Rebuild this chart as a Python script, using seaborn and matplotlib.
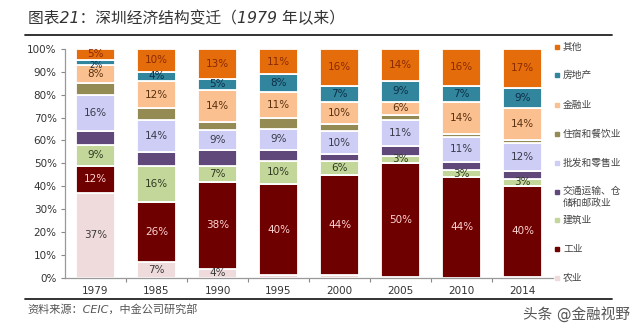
import numpy as np
import pandas as pd
import matplotlib
matplotlib.use("Agg")
import matplotlib.pyplot as plt
from matplotlib.ticker import FixedLocator, PercentFormatter
import seaborn as sns

# Shenzhen GDP structure by sector (% of total)
years = ["1979", "1985", "1990", "1995", "2000", "2005", "2010", "2014"]
sectors = ["农业", "工业", "建筑业", "交通运输、仓储和邮政业", "批发和零售业",
           "住宿和餐饮业", "金融业", "房地产", "其他"]
agriculture = [37, 7, 4, 1, 1, 0.3, 0, 0.3]
industry = [12, 26, 38, 40, 44, 50, 44, 40]
construction = [9, 16, 7, 10, 6, 3, 3, 3]
transport = [6, 6, 6.8, 5, 3, 4.5, 3.7, 3.5]
trade = [16, 14, 9, 9, 10, 11, 11, 12]
hospitality = [5, 5, 3.2, 5, 3, 2.2, 1.3, 1.2]
finance = [8, 12, 14, 11, 10, 6, 14, 14]
real_estate = [2, 4, 5, 8, 7, 9, 7, 9]
others = [5, 10, 13, 11, 16, 14, 16, 17]

series = [agriculture, industry, construction, transport, trade,
          hospitality, finance, real_estate, others]
colors = ["#EFDADC", "#6E0000", "#C4D79B", "#60497A", "#CDCDF5",
          "#948A54", "#FAC090", "#31859C", "#E46C0A"]
label_colors = ["#3a3a3a", "#FFD3D3", "#2f3a20", None, "#3a3a4a",
                None, "#5a3010", "#0c2f48", "#8a2a00"]
labelled = [True, True, True, False, True, False, True, True, True]

sns.set_theme(style="white")
plt.rcParams["font.family"] = ["DejaVu Sans", "Noto Sans CJK SC"]

fig = plt.figure(figsize=(6.4, 3.3), dpi=100)
ax = fig.add_axes([0.1016, 0.1585, 0.7625, 0.693])

df = pd.DataFrame({"year": years})
bottom = np.zeros(len(years))
for k, (vals, col, lc, lab) in enumerate(zip(series, colors, label_colors, labelled)):
    vals = np.asarray(vals, dtype=float)
    df["value"] = vals
    sns.barplot(data=df, x="year", y="value", order=years, bottom=bottom,
                color=col, saturation=1, width=0.64, errorbar=None,
                edgecolor="white", linewidth=1.3, ax=ax)
    if lab:
        for i, v in enumerate(vals):
            if v < 2:
                continue
            y = bottom[i] + v / 2
            size = 7.5
            if v < 3:
                # very thin slice: smaller text, nudged down
                size, y = 6, y - 1.0
            elif k == len(series) - 1 and v <= 5:
                y += 0.5
            ax.text(i, y, f"{v:.0f}%", ha="center", va="center",
                    fontsize=size, color=lc)
    bottom = bottom + vals

ax.set_xlim(-0.5, len(years) - 0.5)
ax.set_ylim(0, 100)
ax.set_xlabel("")
ax.set_ylabel("")
ax.set_yticks(np.arange(0, 101, 10))
ax.yaxis.set_major_formatter(PercentFormatter(decimals=0))
ax.xaxis.set_minor_locator(FixedLocator(np.arange(0.5, len(years) - 1, 1)))
ax.tick_params(axis="x", which="major", length=0, pad=6, labelsize=7.5,
               labelcolor="#333333")
ax.tick_params(axis="x", which="minor", length=3, width=0.8, color="#888888",
               bottom=True, direction="out")
ax.tick_params(axis="y", length=3, width=0.8, color="#888888", left=True,
               direction="out", labelsize=7.5, labelcolor="#333333", pad=3)
for side in ["top", "right"]:
    ax.spines[side].set_visible(False)
for side in ["left", "bottom"]:
    ax.spines[side].set_color("#999999")
    ax.spines[side].set_linewidth(0.9)

# legend on the right, top entry = top of stack
legend_y = [47, 75, 105, 134, 163, 192, 220, 249, 278]
legend_names = ["其他", "房地产", "金融业", "住宿和餐饮业", "批发和零售业",
                "交通运输、仓\n储和邮政业", "建筑业", "工业", "农业"]
for ypx, name, col in zip(legend_y, legend_names, colors[::-1]):
    yf = 1 - ypx / 330
    fig.add_artist(plt.Line2D([557 / 640], [yf], marker="s", markersize=2.6,
                              color=col, linestyle="none"))
    va = "top" if "\n" in name else "center"
    ty = yf + 6 / 330 if "\n" in name else yf
    fig.text(563 / 640, ty, name, fontsize=7, color="#444444", va=va,
             ha="left", linespacing=1.3)

# header and footer
fig.text(28 / 640, 1 - 18 / 330, "图表21：深圳经济结构变迁（1979 年以来）",
         fontsize=11.3, color="#333333", style="italic", va="center")
fig.add_artist(plt.Line2D([25 / 640, 612 / 640], [1 - 35 / 330] * 2,
                          color="#222222", linewidth=1.3))
fig.add_artist(plt.Line2D([25 / 640, 612 / 640], [1 - 299 / 330] * 2,
                          color="#222222", linewidth=1.3))
fig.text(27 / 640, 1 - 309 / 330, "资料来源：CEIC，中金公司研究部",
         fontsize=8, color="#555555", style="italic", va="center")
fig.text(630 / 640, 1 - 314 / 330, "头条 @金融视野", fontsize=10.5,
         color="#555555", ha="right", va="center")

fig.savefig("out.png", dpi=100, facecolor="white")
